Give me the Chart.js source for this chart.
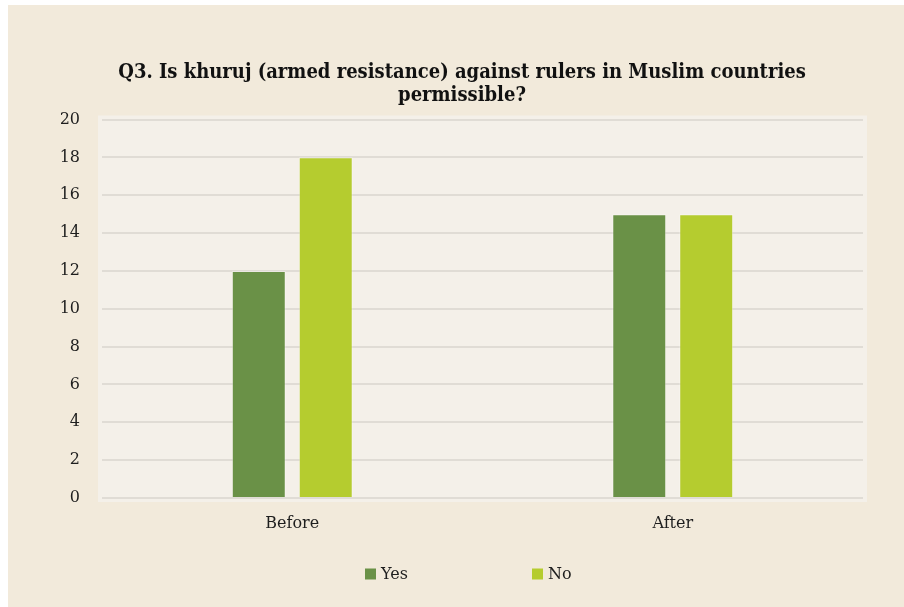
<!DOCTYPE html>
<html>
<head>
<meta charset="utf-8">
<script src="https://cdn.jsdelivr.net/npm/chart.js@4.4.1/dist/chart.umd.min.js"></script>
<style>
    html, body { margin: 0; padding: 0; background: #ffffff; }
    #card {
        position: absolute;
        left: 8px;
        top: 5px;
        width: 896px;
        height: 602px;
        background: #f2eadb;
    }
    #chart { display: block; }
</style>
</head>
<body>
<div id="card"><canvas id="chart" width="896" height="602"></canvas></div>
<script>
// ---------------- DATA ----------------
const categories = ["Before", "After"];
const yesValues = [12, 15];
const noValues = [18, 15];
const seriesNames = ["Yes", "No"];
const titleLines = [
    "Q3. Is khuruj (armed resistance) against rulers in Muslim countries",
    "permissible?"
];
const yMin = 0;
const yMax = 20;
const yStep = 2;

const yesColor = "#6a9147";
const noColor = "#b5cc2f";
const textColor = "#1e1e1e";
const serif = "'DejaVu Serif', 'Liberation Serif', serif";

// light plot background behind the grid
const plotBackground = {
    id: "plotBackground",
    beforeDraw(chart) {
        const { ctx, chartArea } = chart;
        ctx.save();
        ctx.fillStyle = "#f4f0e9";
        ctx.fillRect(chartArea.left - 4, chartArea.top - 4,
            chartArea.right - chartArea.left + 8, chartArea.bottom - chartArea.top + 8);
        ctx.restore();
    }
};

// legend drawn at the bottom, items spread apart like the original
const wideLegend = {
    id: "wideLegend",
    afterDraw(chart) {
        const ctx = chart.ctx;
        const cx = chart.width / 2;
        const y = 569;
        const offsets = [-91, 76];
        ctx.save();
        ctx.font = "16px " + serif;
        ctx.textBaseline = "middle";
        chart.data.datasets.forEach((ds, i) => {
            const x = cx + offsets[i];
            ctx.fillStyle = ds.backgroundColor;
            ctx.fillRect(x, y - 5.5, 11, 11);
            ctx.fillStyle = textColor;
            ctx.fillText(ds.label, x + 16, y + 1);
        });
        ctx.restore();
    }
};

const ctx = document.getElementById("chart");
new Chart(ctx, {
    type: "bar",
    data: {
        labels: categories,
        datasets: [
            {
                label: seriesNames[0],
                data: yesValues,
                backgroundColor: yesColor,
                borderColor: "rgba(255,255,255,0.35)",
                borderWidth: 1,
            },
            {
                label: seriesNames[1],
                data: noValues,
                backgroundColor: noColor,
                borderColor: "rgba(255,255,255,0.35)",
                borderWidth: 1,
            }
        ]
    },
    options: {
        responsive: false,
        animation: false,
        categoryPercentage: 0.352,
        barPercentage: 0.806,
        layout: { padding: { left: 53, right: 41, top: 0, bottom: 0 } },
        plugins: {
            legend: { display: false },
            tooltip: { enabled: false },
            title: {
                display: true,
                text: titleLines,
                color: "#111111",
                font: { family: "'DejaVu Serif Condensed', 'DejaVu Serif', serif", size: 20, weight: "bold", lineHeight: 1.15 },
                padding: { top: 56, bottom: 12.5 }
            }
        },
        scales: {
            x: {
                grid: { display: false, drawTicks: false },
                border: { display: false },
                ticks: {
                    color: textColor,
                    font: { family: serif, size: 16 },
                    padding: 16
                },
                afterFit(scale) { scale.height = 109; }
            },
            y: {
                min: yMin,
                max: yMax,
                grid: { color: "#e0dcd5", lineWidth: 2, drawTicks: false },
                border: { display: false },
                ticks: {
                    stepSize: yStep,
                    color: textColor,
                    font: { family: serif, size: 16 },
                    padding: 22
                },
                afterFit(scale) { scale.width = 41; }
            }
        }
    },
    plugins: [plotBackground, wideLegend]
});
</script>
</body>
</html>
